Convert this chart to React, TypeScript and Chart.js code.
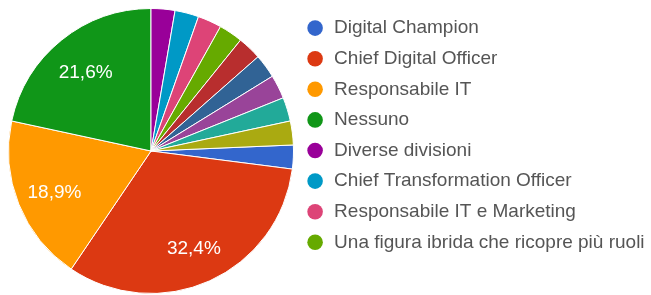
import { useEffect, useRef } from "react";
import { Chart, registerables } from "chart.js";

Chart.register(...registerables);

const categories = [
  "Digital Champion",
  "Chief Digital Officer",
  "Responsabile IT",
  "Nessuno",
  "Diverse divisioni",
  "Chief Transformation Officer",
  "Responsabile IT e Marketing",
  "Una figura ibrida che ricopre più ruoli",
  "Altro 1",
  "Altro 2",
  "Altro 3",
  "Altro 4",
  "Altro 5",
];
const responses = [1, 12, 7, 8, 1, 1, 1, 1, 1, 1, 1, 1, 1];
const sliceColors = [
  "#3366CC",
  "#DC3912",
  "#FF9900",
  "#109618",
  "#990099",
  "#0099C6",
  "#DD4477",
  "#66AA00",
  "#B82E2E",
  "#316395",
  "#994499",
  "#22AA99",
  "#AAAA11",
];
const legendShown = 8;
const FONT = '"Liberation Sans", Arial, sans-serif';

const sliceLabels = {
  id: "sliceLabels",
  afterDatasetsDraw(chart: any) {
    const ctx = chart.ctx;
    const meta = chart.getDatasetMeta(0);
    const data = chart.data.datasets[0].data as number[];
    const total = data.reduce((a, b) => a + b, 0);
    ctx.save();
    ctx.font = `19px ${FONT}`;
    ctx.fillStyle = "#ffffff";
    ctx.textAlign = "center";
    ctx.textBaseline = "middle";
    meta.data.forEach((arc: any, i: number) => {
      const v = data[i];
      if (v / total < 0.05) return;
      const { x, y, startAngle, endAngle, outerRadius } = arc.getProps(
        ["x", "y", "startAngle", "endAngle", "outerRadius"],
        true
      );
      const mid = (startAngle + endAngle) / 2;
      const r = outerRadius * 0.73;
      const txt = ((v / total) * 100).toFixed(1).replace(".", ",") + "%";
      ctx.fillText(txt, x + Math.cos(mid) * r, y + Math.sin(mid) * r + 3);
    });
    ctx.restore();
  },
};

// let the legend box reach the canvas' right edge so long labels are not clipped
const widenLegend = {
  id: "widenLegend",
  afterLayout(chart: any) {
    const lg = chart.legend;
    if (!lg) return;
    lg.right = chart.width;
    lg.width = lg.right - lg.left;
  },
};

export default function App() {
  const ref = useRef<HTMLCanvasElement>(null);
  useEffect(() => {
    const total = responses.reduce((a, b) => a + b, 0);
    const startOffset = (9 / total) * 360;
    const chart = new Chart(ref.current as HTMLCanvasElement, {
      type: "pie",
      data: {
        labels: categories,
        datasets: [
          {
            data: responses,
            backgroundColor: sliceColors,
            borderColor: "#ffffff",
            borderWidth: 1,
          },
        ],
      },
      options: {
        animation: false,
        responsive: false,
        devicePixelRatio: 1,
        rotation: startOffset,
        layout: { padding: { top: 7, left: 8, right: 71, bottom: 0 } },
        plugins: {
          tooltip: { enabled: false },
          legend: {
            position: "right",
            align: "start",
            labels: {
              usePointStyle: true,
              pointStyle: "circle",
              boxWidth: 19,
              boxHeight: 11,
              padding: 11.6,
              color: "#555555",
              font: { size: 19, family: FONT },
              filter: (item: any) => item.index < legendShown,
              generateLabels: (c: any) => {
                const base = (Chart as any).overrides.pie.plugins.legend.labels.generateLabels(c);
                return base.map((l: any) => ({ ...l, lineWidth: 0, strokeStyle: "rgba(0,0,0,0)" }));
              },
            },
          },
        },
      },
      plugins: [sliceLabels, widenLegend],
    });
    return () => chart.destroy();
  }, []);
  return (
    <div style={{ position: "absolute", left: 0, top: 0, width: 651, height: 295, background: "#fff" }}>
      <canvas ref={ref} width={651} height={295} style={{ width: 651, height: 295, display: "block" }} />
    </div>
  );
}
